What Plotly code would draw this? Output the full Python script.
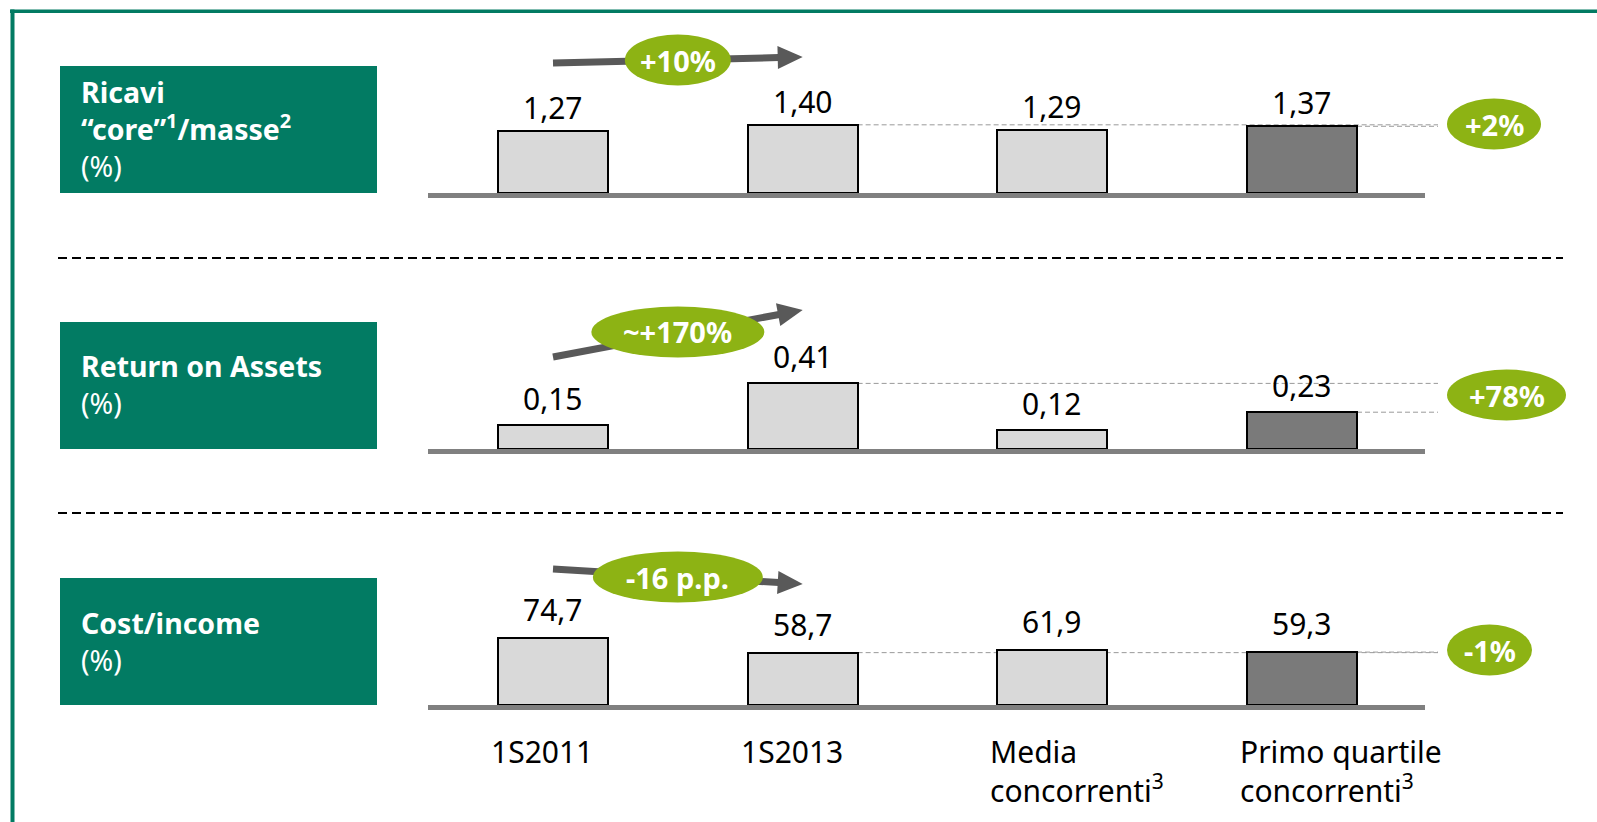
import numpy as np
import plotly.graph_objects as go

W, H = 1597, 822

# ---- data -------------------------------------------------------------
categories = ["1S2011", "1S2013", "Media<br>concorrenti<sup>3</sup>",
              "Primo quartile<br>concorrenti<sup>3</sup>"]
ricavi_core_masse = [1.27, 1.40, 1.29, 1.37]
return_on_assets = [0.15, 0.41, 0.12, 0.23]
cost_income = [74.7, 58.7, 61.9, 59.3]
trend_labels = ["+10%", "~+170%", "-16 p.p."]
gap_labels = ["+2%", "+78%", "-1%"]
panel_titles = [
    "<b>Ricavi<br>“core”<sup>1</sup>/masse<sup>2</sup></b><br>(%)",
    "<b>Return on Assets</b><br>(%)",
    "<b>Cost/income</b><br>(%)",
]

# ---- styling ----------------------------------------------------------
FONT = "Noto Sans"
TEAL = "#027B63"
OLIVE = "#8DB314"
ARROW_GREY = "#595959"
BAR_LIGHT = "#D9D9D9"
BAR_DARK = "#7A7A7A"
BASE_GREY = "#808080"
bar_colors = [BAR_LIGHT, BAR_LIGHT, BAR_LIGHT, BAR_DARK]

STEP = 249.7          # pixels between category centres
X0_PX = 553           # pixel centre of the first category
BAR_W = 0.44          # bar width in category units
X_RANGE = [-X0_PX / STEP, (W - X0_PX) / STEP]

def px_x(px):
    return px / W

def px_y(py):
    return 1 - py / H

def cat_px(i):
    return X0_PX + STEP * i

panels = [
    dict(values=ricavi_core_masse, dec=2, base=193, scale=48.7, lab_shift=1,
         arrow=(63, 57), badge_y=60, badge_w=106, gap_y=124, gap_w=94),
    dict(values=return_on_assets, dec=2, base=449, scale=160.0, lab_shift=4,
         arrow=(357, 310), badge_y=332, badge_w=173, gap_y=395, gap_w=119),
    dict(values=cost_income, dec=1, base=705, scale=0.892, lab_shift=6,
         arrow=(569, 584), badge_y=577, badge_w=170, gap_y=650, gap_w=85),
]

PANEL_H = 170
fig = go.Figure()
shapes = []
annotations = []
layout_axes = {}
x_pos = list(range(len(categories)))

# frame
shapes.append(dict(type="rect", xref="paper", yref="paper", x0=px_x(10), x1=1,
                   y0=px_y(13), y1=px_y(9.5), fillcolor=TEAL, line_width=0))
shapes.append(dict(type="rect", xref="paper", yref="paper", x0=px_x(10.5), x1=px_x(14.5),
                   y0=0, y1=px_y(9.5), fillcolor=TEAL, line_width=0))

# dashed separators between panels
for sy in (258, 513):
    shapes.append(dict(type="line", xref="paper", yref="paper",
                       x0=px_x(58), x1=px_x(1563), y0=px_y(sy), y1=px_y(sy),
                       line=dict(color="black", width=2, dash="9px,5px")))


def add_arrow(x0, y0, x1, y1, width=7, head_len=25, head_half=11.5):
    p0 = np.array([x0, y0], float)
    p1 = np.array([x1, y1], float)
    u = (p1 - p0) / np.linalg.norm(p1 - p0)
    n = np.array([-u[1], u[0]])
    base = p1 - u * head_len
    shapes.append(dict(type="line", xref="paper", yref="paper",
                       x0=px_x(p0[0]), y0=px_y(p0[1]),
                       x1=px_x(base[0] + u[0]), y1=px_y(base[1] + u[1]),
                       line=dict(color=ARROW_GREY, width=width)))
    pts = [p1, base + n * head_half, base - n * head_half]
    path = "M " + " L ".join(f"{px_x(p[0]):.5f},{px_y(p[1]):.5f}" for p in pts) + " Z"
    shapes.append(dict(type="path", xref="paper", yref="paper", path=path,
                       fillcolor=ARROW_GREY, line_width=0))


def add_badge(cx, cy, w, h, text):
    shapes.append(dict(type="circle", xref="paper", yref="paper",
                       x0=px_x(cx - w / 2), x1=px_x(cx + w / 2),
                       y0=px_y(cy + h / 2), y1=px_y(cy - h / 2),
                       fillcolor=OLIVE, line_width=0))
    annotations.append(dict(xref="paper", yref="paper", x=px_x(cx), y=px_y(cy),
                            text=f"<b>{text}</b>", showarrow=False,
                            xanchor="center", yanchor="middle",
                            font=dict(family=FONT, size=29, color="white")))


for k, p in enumerate(panels):
    sfx = "" if k == 0 else str(k + 1)
    xa, ya = "x" + sfx, "y" + sfx
    base = p["base"]
    vals = p["values"]

    layout_axes["xaxis" + sfx] = dict(domain=[0, 1], range=X_RANGE, visible=False,
                                      anchor=ya, fixedrange=True)
    layout_axes["yaxis" + sfx] = dict(domain=[px_y(base), px_y(base - PANEL_H)],
                                      range=[0, PANEL_H / p["scale"]], visible=False,
                                      anchor=xa, fixedrange=True)

    fig.add_trace(go.Bar(x=x_pos, y=vals, width=BAR_W, xaxis=xa, yaxis=ya,
                         marker=dict(color=bar_colors, line=dict(color="black", width=2)),
                         hoverinfo="skip", showlegend=False))

    # value labels
    for i, v in enumerate(vals):
        annotations.append(dict(xref=xa, yref=ya, x=i, y=v, yshift=p["lab_shift"],
                                text=f"{v:.{p['dec']}f}".replace(".", ","),
                                showarrow=False, xanchor="center", yanchor="bottom",
                                font=dict(family=FONT, size=30, color="black")))

    # baseline bar
    shapes.append(dict(type="rect", xref="paper", yref="paper",
                       x0=px_x(428), x1=px_x(1425), y0=px_y(base + 5), y1=px_y(base),
                       fillcolor=BASE_GREY, line_width=0))

    # reference lines towards the gap badge
    right_end = (1438 - X0_PX) / STEP
    for i in (1, 3):
        shapes.append(dict(type="line", xref=xa, yref=ya, layer="below",
                           x0=i + BAR_W / 2, x1=right_end, y0=vals[i], y1=vals[i],
                           line=dict(color="#9A9A9A", width=1, dash="5px,3px")))

    # title box
    shapes.append(dict(type="rect", xref="paper", yref="paper",
                       x0=px_x(60), x1=px_x(377), y0=px_y(base), y1=px_y(base - 127),
                       fillcolor=TEAL, line_width=0))
    annotations.append(dict(xref="paper", yref="paper", x=px_x(79), y=px_y(base - 64),
                            text=panel_titles[k], showarrow=False, align="left",
                            xanchor="left", yanchor="middle",
                            font=dict(family=FONT, size=28.5, color="white")))

    # trend arrow 1S2011 -> 1S2013 with its badge
    ay0, ay1 = p["arrow"]
    add_arrow(cat_px(0), ay0, cat_px(1), ay1)
    add_badge((cat_px(0) + cat_px(1)) / 2, p["badge_y"], p["badge_w"], 51, trend_labels[k])

    # gap badge on the right
    add_badge(1447 + p["gap_w"] / 2, p["gap_y"], p["gap_w"], 51, gap_labels[k])

# category labels under the last panel
for i, c in enumerate(categories):
    annotations.append(dict(xref="x3", yref="paper", x=i - BAR_W / 2, xshift=-9,
                            y=px_y(729), text=c, showarrow=False, align="left",
                            xanchor="left", yanchor="top",
                            font=dict(family=FONT, size=30, color="black")))

fig.update_layout(
    width=W, height=H, margin=dict(l=0, r=0, t=0, b=0),
    paper_bgcolor="white", plot_bgcolor="rgba(0,0,0,0)",
    bargap=0, showlegend=False,
    shapes=shapes, annotations=annotations, **layout_axes,
)

fig.write_html("out.html", config={"displayModeBar": False})
